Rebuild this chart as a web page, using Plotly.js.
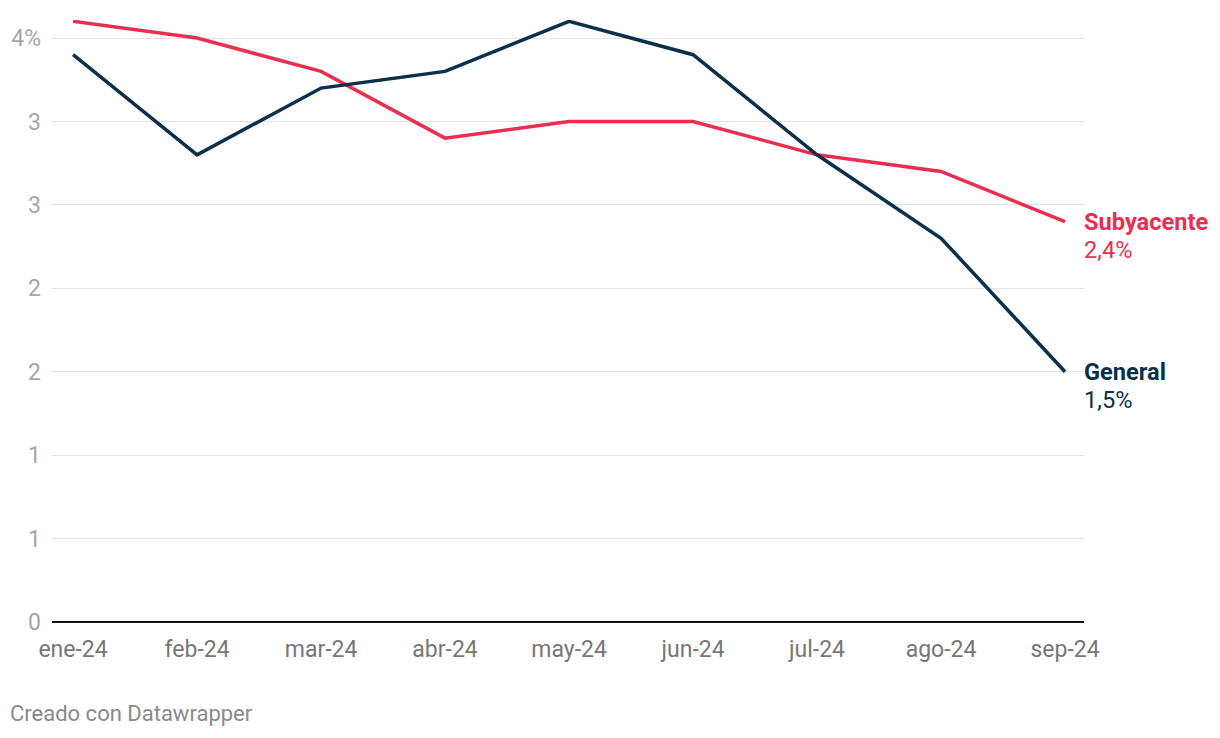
<!DOCTYPE html>
<html>
<head>
<meta charset="utf-8">
<script src="https://cdn.plot.ly/plotly-3.0.1.min.js"></script>
<style>html,body{margin:0;padding:0;background:#fff;}#chart{width:1220px;height:738px;}</style>
</head>
<body>
<div id="chart"></div>
<script>
const months = ["ene-24","feb-24","mar-24","abr-24","may-24","jun-24","jul-24","ago-24","sep-24"];
const general = [3.4, 2.8, 3.2, 3.3, 3.6, 3.4, 2.8, 2.3, 1.5];
const subyacente = [3.6, 3.5, 3.3, 2.9, 3.0, 3.0, 2.8, 2.7, 2.4];
const yTickVals = [0, 0.5, 1, 1.5, 2, 2.5, 3, 3.5];
const yTickText = ["0","1","1","2","2","3","3","4%"];
const seriesNames = ["General", "Subyacente"];
const seriesLabels = ["1,5%", "2,4%"];
const colors = {general: "#0b3049", subyacente: "#ea2e4f"};

const xIdx = months.map((m, i) => i);

const traces = [
  {x: xIdx, y: subyacente, type: "scatter", mode: "lines", line: {color: colors.subyacente, width: 3.5}, hoverinfo: "skip", cliponaxis: false},
  {x: xIdx, y: general, type: "scatter", mode: "lines", line: {color: colors.general, width: 3.5}, hoverinfo: "skip", cliponaxis: false}
];

const last = months.length - 1;
const annFont = (c) => ({family: "Roboto", size: 23.6, color: c});
const annotations = [
  {x: last, y: subyacente[last], xref: "x", yref: "y", text: "<b>" + seriesNames[1] + "</b>", showarrow: false, xanchor: "left", yanchor: "middle", xshift: 17, font: annFont(colors.subyacente)},
  {x: last, y: subyacente[last], xref: "x", yref: "y", text: seriesLabels[1], showarrow: false, xanchor: "left", yanchor: "middle", xshift: 17, yshift: -28, font: annFont(colors.subyacente)},
  {x: last, y: general[last], xref: "x", yref: "y", text: "<b>" + seriesNames[0] + "</b>", showarrow: false, xanchor: "left", yanchor: "middle", xshift: 17, font: annFont(colors.general)},
  {x: last, y: general[last], xref: "x", yref: "y", text: seriesLabels[0], showarrow: false, xanchor: "left", yanchor: "middle", xshift: 17, yshift: -28, font: annFont(colors.general)},
  {x: (8 - 52) / 1032, y: (622 - 714) / 602, xref: "paper", yref: "paper", text: "Creado con Datawrapper", showarrow: false, xanchor: "left", yanchor: "middle", font: {family: "Roboto", size: 22, color: "#8a8a8a"}}
];

const layout = {
  width: 1220, height: 738,
  margin: {l: 52, r: 136, t: 20, b: 116},
  paper_bgcolor: "#fff", plot_bgcolor: "#fff",
  showlegend: false,
  font: {family: "Roboto", size: 23, color: "#999"},
  xaxis: {
    range: [-0.17, 8.153],
    tickmode: "array", tickvals: xIdx, ticktext: months,
    showgrid: false, zeroline: false, showline: false,
    ticks: "", ticklabelstandoff: 11,
    tickfont: {family: "Roboto", size: 23, color: "#777"},
    fixedrange: true
  },
  yaxis: {
    range: [0, 3.608],
    tickmode: "array", tickvals: yTickVals, ticktext: yTickText,
    showgrid: true, gridcolor: "#e3e3e3", gridwidth: 1,
    zeroline: true, zerolinecolor: "#111", zerolinewidth: 2,
    showline: false, ticks: "", ticklabelstandoff: 10,
    tickfont: {family: "Roboto", size: 23, color: "#a6a6a6"},
    fixedrange: true
  },
  annotations: annotations
};

Plotly.newPlot("chart", traces, layout, {displayModeBar: false, staticPlot: true});
</script>
</body>
</html>
